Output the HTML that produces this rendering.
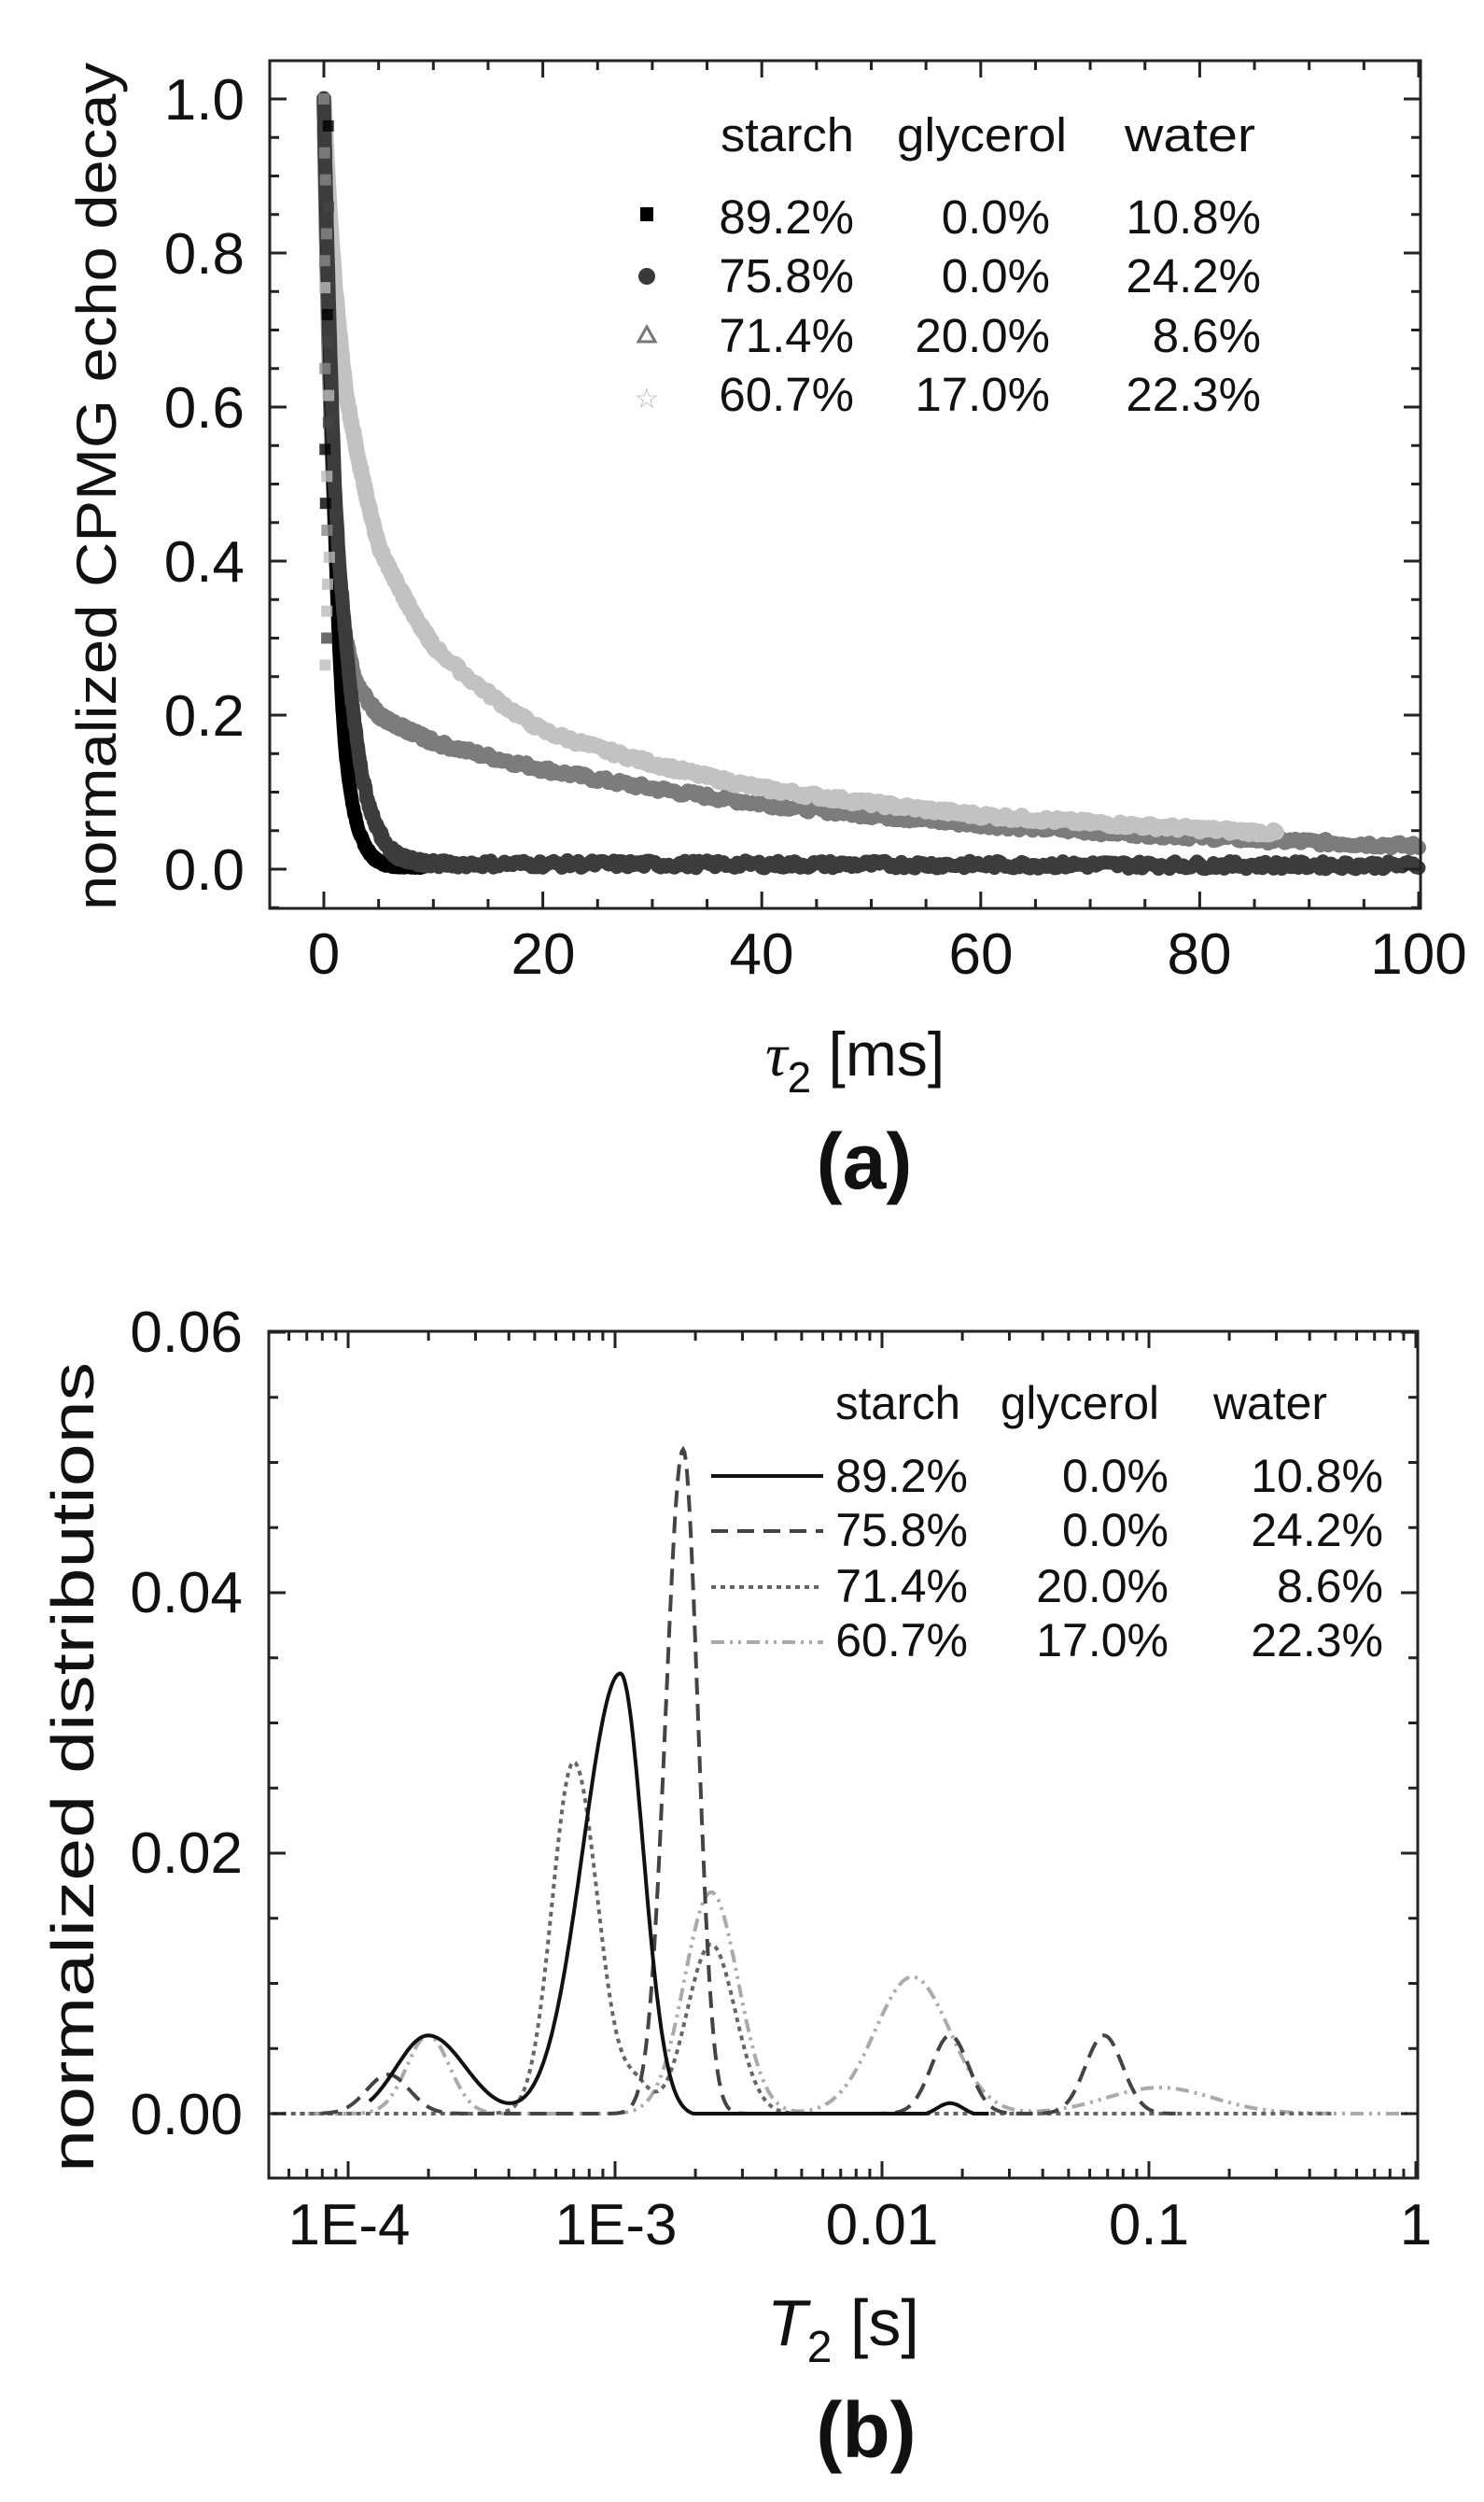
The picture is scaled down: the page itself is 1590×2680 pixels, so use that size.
<!DOCTYPE html>
<html><head><meta charset="utf-8">
<style>html,body{margin:0;padding:0;background:#fff}svg{display:block}
text{font-family:"Liberation Sans",Arial,sans-serif;fill:#111}</style></head>
<body>
<svg id="s" width="1590" height="2680" viewBox="0 0 1590 2680" xmlns="http://www.w3.org/2000/svg">
<rect width="1590" height="2680" fill="#fff"/>
<g id="ga"></g>
<g id="gb"></g>
<!-- Panel a texts -->
<g font-size="62" text-anchor="end">
<text x="262" y="128">1.0</text><text x="262" y="293">0.8</text><text x="262" y="458">0.6</text>
<text x="262" y="623">0.4</text><text x="262" y="788">0.2</text><text x="262" y="953">0.0</text>
</g>
<g font-size="62" text-anchor="middle">
<text x="347" y="1043">0</text><text x="582" y="1043">20</text><text x="816" y="1043">40</text>
<text x="1051" y="1043">60</text><text x="1285" y="1043">80</text><text x="1520" y="1043">100</text>
</g>
<text transform="translate(124,521) rotate(-90)" font-size="60" text-anchor="middle" textLength="908" lengthAdjust="spacingAndGlyphs">normalized CPMG echo decay</text>
<text x="820" y="1152" font-size="66"><tspan font-family="Liberation Serif" font-style="italic">τ</tspan><tspan font-size="46" dy="18">2</tspan><tspan dy="-18"> [ms]</tspan></text>
<text x="926" y="1273" font-size="84" font-weight="bold" text-anchor="middle">(a)</text>
<!-- legend a -->
<g font-size="51">
<text x="772" y="162" textLength="143" lengthAdjust="spacingAndGlyphs">starch</text>
<text x="961" y="162" textLength="182" lengthAdjust="spacingAndGlyphs">glycerol</text>
<text x="1205" y="162" textLength="140" lengthAdjust="spacingAndGlyphs">water</text>
</g>
<g font-size="51" text-anchor="end">
<text x="915" y="250">89.2%</text><text x="1125" y="250">0.0%</text><text x="1351" y="250">10.8%</text>
<text x="915" y="313">75.8%</text><text x="1125" y="313">0.0%</text><text x="1351" y="313">24.2%</text>
<text x="915" y="377">71.4%</text><text x="1125" y="377">20.0%</text><text x="1351" y="377">8.6%</text>
<text x="915" y="440">60.7%</text><text x="1125" y="440">17.0%</text><text x="1351" y="440">22.3%</text>
</g>
<rect x="686" y="222" width="14" height="15" fill="#000"/>
<circle cx="693" cy="296" r="9" fill="#3a3a3a"/>
<polygon points="693,350 702,366 684,366" fill="none" stroke="#777" stroke-width="3"/>
<text x="693" y="437" font-size="30" text-anchor="middle" style="fill:#bbb">☆</text>
<!-- Panel b texts -->
<g font-size="62" text-anchor="end">
<text x="260" y="1448">0.06</text><text x="260" y="1727">0.04</text>
<text x="260" y="2006">0.02</text><text x="260" y="2286">0.00</text>
</g>
<g font-size="62" text-anchor="middle">
<text x="374" y="2404">1E-4</text><text x="660" y="2404">1E-3</text><text x="945" y="2404">0.01</text>
<text x="1231" y="2404">0.1</text><text x="1517" y="2404">1</text>
</g>
<text transform="translate(100,1893) rotate(-90)" font-size="64" text-anchor="middle" textLength="868" lengthAdjust="spacingAndGlyphs">normalized distributions</text>
<text x="822" y="2512" font-size="70"><tspan font-style="italic">T</tspan><tspan font-size="48" dy="18">2</tspan><tspan dy="-18"> [s]</tspan></text>
<text x="928" y="2632" font-size="84" font-weight="bold" text-anchor="middle">(b)</text>
<g font-size="50">
<text x="895" y="1520" textLength="134" lengthAdjust="spacingAndGlyphs">starch</text>
<text x="1072" y="1520" textLength="170" lengthAdjust="spacingAndGlyphs">glycerol</text>
<text x="1300" y="1520" textLength="122" lengthAdjust="spacingAndGlyphs">water</text>
</g>
<g font-size="50" text-anchor="end">
<text x="1037" y="1598">89.2%</text><text x="1252" y="1598">0.0%</text><text x="1482" y="1598">10.8%</text>
<text x="1037" y="1656">75.8%</text><text x="1252" y="1656">0.0%</text><text x="1482" y="1656">24.2%</text>
<text x="1037" y="1716">71.4%</text><text x="1252" y="1716">20.0%</text><text x="1482" y="1716">8.6%</text>
<text x="1037" y="1774">60.7%</text><text x="1252" y="1774">17.0%</text><text x="1482" y="1774">22.3%</text>
</g>
<line x1="762" y1="1581" x2="882" y2="1581" stroke="#111" stroke-width="4"/>
<line x1="762" y1="1640" x2="882" y2="1640" stroke="#444" stroke-width="4" stroke-dasharray="18,10"/>
<line x1="762" y1="1700" x2="882" y2="1700" stroke="#666" stroke-width="4" stroke-dasharray="5,5"/>
<line x1="762" y1="1759" x2="882" y2="1759" stroke="#aaa" stroke-width="4" stroke-dasharray="14,6,3,6,3,6"/>
</svg>
<script>
var NS="http://www.w3.org/2000/svg";
function el(p,t,a){var e=document.createElementNS(NS,t);for(var k in a)e.setAttribute(k,a[k]);p.appendChild(e);return e;}
var ga=document.getElementById('ga');
var L=289,R=1522,T=65,B=973;
function XA(t){return 347+t*11.73;} function YA(v){return 931-v*825;}
function interp(pts,t){if(t<=pts[0][0])return pts[0][1];for(var i=1;i<pts.length;i++){if(t<=pts[i][0]){var a=pts[i-1],b=pts[i];var f=(t-a[0])/(b[0]-a[0]);
 if(a[1]>0&&b[1]>0)return Math.exp(Math.log(a[1])+f*(Math.log(b[1])-Math.log(a[1])));return a[1]+f*(b[1]-a[1]);}}return pts[pts.length-1][1];}
var seed=7;function rnd(){seed=(seed*9301+49297)%233280;return seed/233280;}
function bandA(pts,tmax,color,w,noise){var d="";var n=0;
 for(var t=0;t<=tmax;t+=(t<10?0.05:0.25)){var v=interp(pts,t)+(rnd()-0.5)*noise;d+=(n++?"L":"M")+XA(t).toFixed(1)+","+YA(v).toFixed(1);}
 el(ga,'path',{d:d,fill:'none',stroke:color,'stroke-width':w,'stroke-linejoin':'round','stroke-linecap':'round'});}
var tri=[[0,1],[0.5,0.65],[1,0.45],[2,0.3],[3,0.24],[5,0.2],[10,0.165],[20,0.13],[30,0.105],[40,0.085],[60,0.058],[80,0.042],[100,0.03]];
var star=[[0,1],[0.5,0.86],[1,0.76],[2,0.62],[5,0.42],[10,0.29],[20,0.18],[40,0.105],[60,0.07],[87,0.047]];
var circ=[[0,1],[0.5,0.72],[1,0.5],[1.5,0.38],[2,0.3],[3,0.17],[4,0.09],[5,0.05],[7,0.015],[10,0.007],[100,0.005]];
var sq=[[0,1],[0.5,0.7],[1,0.45],[1.5,0.26],[2,0.15],[3,0.06],[4,0.025],[5,0.01],[6,0.005],[9,0.003]];
bandA(tri,100,'#7c7c7c',16,0.008);
bandA(star,87,'#c2c2c2',17,0.007);
bandA(sq,9,'#000',15,0.004);
bandA(circ,100,'#3c3c3c',15,0.01);
// early scatter markers near t=0
for(var v=1.0;v>0.25;v-=0.035){var c=['#000','#444','#888','#bbb'][Math.floor(rnd()*4)];
 el(ga,'rect',{x:XA(0)-6+rnd()*6,y:YA(v)-6,width:12,height:12,fill:c,opacity:0.8});}
el(ga,'rect',{x:L,y:T,width:R-L,height:B-T,fill:'none',stroke:'#222','stroke-width':3});
for(var t=-5;t<=100;t+=5){var x=XA(t);if(x<L||x>R)continue;var len=(t%20==0)?18:10;
 el(ga,'line',{x1:x,y1:B,x2:x,y2:B-len,stroke:'#222','stroke-width':3});el(ga,'line',{x1:x,y1:T,x2:x,y2:T+len,stroke:'#222','stroke-width':3});}
for(var i=-1;i<=21;i++){var v=i*0.05;var y=YA(v);if(y<T||y>B)continue;var len=(i%4==0)?18:10;
 el(ga,'line',{x1:L,y1:y,x2:L+len,y2:y,stroke:'#222','stroke-width':3});el(ga,'line',{x1:R,y1:y,x2:R-len,y2:y,stroke:'#222','stroke-width':3});}
var gb=document.getElementById('gb');
var Lb=288,Rb=1519,Tb=1426,Bb=2333;
function XB(lg){return 373+286*(lg+4);} function YB(v){return 2264-v*13950;}
function g(x,m,a,sl,sr){var s=x<m?sl:(sr||sl);return a*Math.exp(-(x-m)*(x-m)/(2*s*s));}
function curve(f,lo,hi,color,dash){var d="",n=0;for(var lg=lo;lg<=hi;lg+=0.005){var v=Math.max(0,f(lg));d+=(n++?"L":"M")+XB(lg).toFixed(1)+","+YB(v).toFixed(1);}
 var a={d:d,fill:'none',stroke:color,'stroke-width':4};if(dash)a['stroke-dasharray']=dash;el(gb,'path',a);}
var lo=Math.log10(5.2e-5);
curve(function(x){return g(x,-3.70,0.006,0.08)+g(x,-2.64,0.017,0.1)+g(x,-1.886,0.0105,0.14)+g(x,-0.96,0.002,0.2);},lo,-0.01,'#aaa','14,6,3,6,3,6');
curve(function(x){return g(x,-3.155,0.027,0.08,0.09)+g(x,-2.64,0.013,0.09)+g(x,-2.92,0.002,0.05);},lo,-0.3,'#666','5,5');
curve(function(x){return g(x,-3.85,0.003,0.08)+g(x,-2.745,0.051,0.065,0.055)+g(x,-1.745,0.006,0.07)+g(x,-1.168,0.006,0.07);},-4.1,-0.9,'#444','18,10');
curve(function(x){return g(x,-3.70,0.0062,0.12,0.14)+g(x,-2.98,0.034,0.14,0.085)+g(x,-1.745,0.001,0.05)-0.0002;},-3.92,-1.6,'#111',null);
el(gb,'rect',{x:Lb,y:Tb,width:Rb-Lb,height:Bb-Tb,fill:'none',stroke:'#222','stroke-width':3});
for(var dec=-5;dec<=0;dec++){for(var k=1;k<=9;k++){var lg=dec+Math.log10(k);var x=XB(lg);if(x<Lb||x>Rb)continue;var len=k==1?18:10;
 el(gb,'line',{x1:x,y1:Bb,x2:x,y2:Bb-len,stroke:'#222','stroke-width':3});el(gb,'line',{x1:x,y1:Tb,x2:x,y2:Tb+len,stroke:'#222','stroke-width':3});}}
for(var i=-1;i<=12;i++){var v=i*0.005;var y=YB(v);if(y<Tb-1||y>Bb)continue;var len=(i%4==0)?18:10;
 el(gb,'line',{x1:Lb,y1:y,x2:Lb+len,y2:y,stroke:'#222','stroke-width':3});el(gb,'line',{x1:Rb,y1:y,x2:Rb-len,y2:y,stroke:'#222','stroke-width':3});}
</script>
</body></html>
